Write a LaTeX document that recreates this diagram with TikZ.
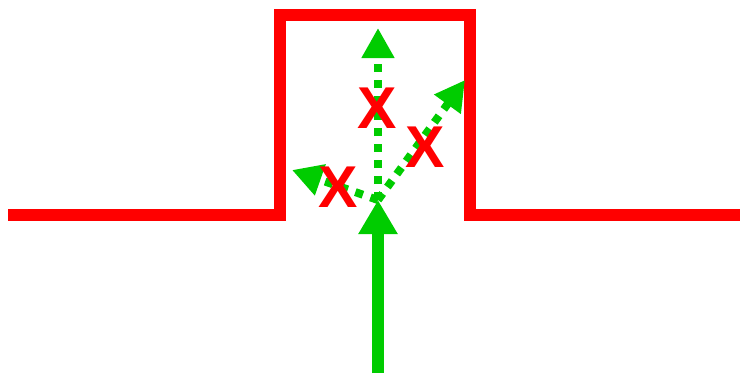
\documentclass[tikz,border=0pt]{standalone}
\usepackage{fontspec}
\setmainfont{Liberation Sans}
\usetikzlibrary{arrows.meta}
\definecolor{wallred}{RGB}{255,0,0}
\definecolor{raygreen}{RGB}{0,204,0}
\tikzset{
  wall/.style={draw=wallred, line width=12pt, line join=miter},
  solidray/.style={draw=raygreen, line width=12pt, -{Triangle[length=34pt,width=37pt]}},
  dotray/.style={draw=raygreen, line width=8pt, dash pattern=on 8pt off 8pt, -{Triangle[length=30pt,width=31pt]}},
  cross/.style={text=wallred, font=\bfseries\fontsize{59}{59}\selectfont, inner sep=0pt}
}
\begin{document}
\begin{tikzpicture}[x=1pt,y=-1pt]
\useasboundingbox (0,0) rectangle (740,373);
\coordinate (wl) at (8,215);
\coordinate (bl) at (280,215);
\coordinate (tl) at (280,15);
\coordinate (tr) at (470,15);
\coordinate (br) at (470,215);
\coordinate (wr) at (740,215);
\draw[wall] (wl) -- (bl) -- (tl) -- (tr) -- (br) -- (wr);
\coordinate (src) at (378,373);
\coordinate (o) at (378,200);
\coordinate (up) at (378,28);
\coordinate (ur) at (465,80);
\coordinate (ul) at (292,170);
\draw[solidray] (src) -- (o);
\draw[dotray] (o) -- (up);
\draw[dotray] (o) -- (ur);
\draw[dotray] (o) -- (ul);
\node[cross] (x1) at (377,108) {X};
\node[cross] (x2) at (425,147) {X};
\node[cross] (x3) at (338,187) {X};
\end{tikzpicture}
\end{document}
